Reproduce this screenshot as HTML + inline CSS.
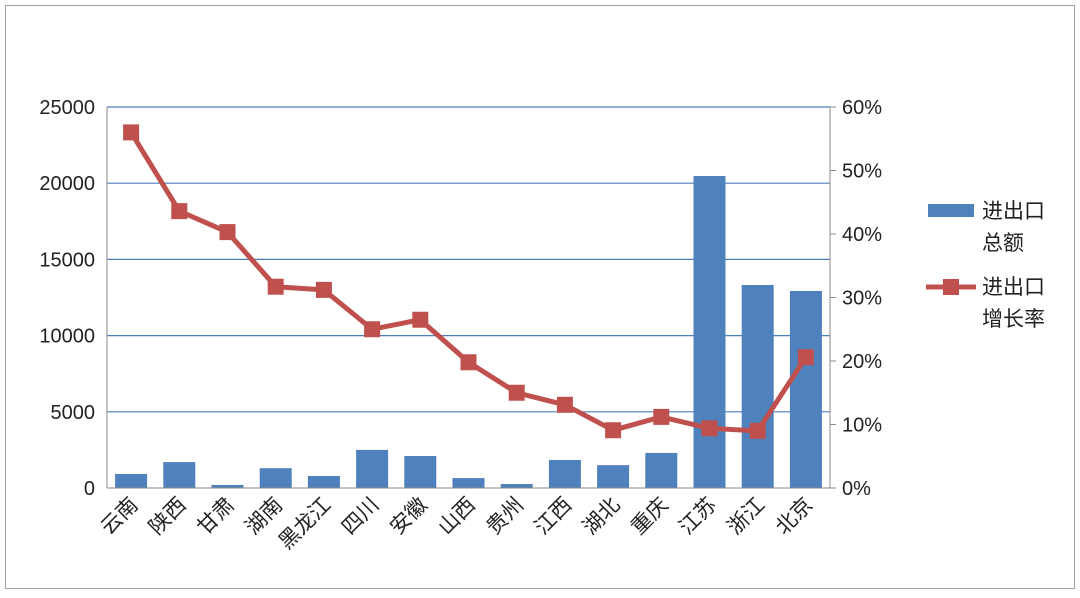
<!DOCTYPE html>
<html><head><meta charset="utf-8"><style>
body{margin:0;background:#fff;}
svg text{font-family:"Liberation Sans","Noto Sans CJK SC",sans-serif;fill:#222;}
</style></head><body>
<svg width="1080" height="593" xmlns="http://www.w3.org/2000/svg">
<rect x="5.5" y="5.5" width="1069" height="583" fill="#fff" stroke="#a0a0a0"/>
<g id="grid"></g><g id="bars"></g><g id="axes"></g><g id="line"></g><g id="labels"></g>
<g>
<rect x="928" y="204" width="46" height="13" fill="#4f81bd"/>
<text x="982" y="218" font-size="21">进出口</text>
<text x="982" y="250" font-size="21">总额</text>
<line x1="926" y1="287" x2="976" y2="287" stroke="#c0504d" stroke-width="5"/>
<rect x="943" y="279" width="16" height="16" fill="#c0504d"/>
<text x="982" y="294" font-size="21">进出口</text>
<text x="982" y="326" font-size="21">增长率</text>
</g>
</svg>
<script>
const categories=["云南","陕西","甘肃","湖南","黑龙江","四川","安徽","山西","贵州","江西","湖北","重庆","江苏","浙江","北京"];
const totals=[920,1700,200,1300,790,2500,2100,650,260,1840,1500,2300,20470,13320,12930];
const growth=[56,43.6,40.3,31.7,31.2,25,26.5,19.8,15,13.1,9.1,11.2,9.4,9,20.6];
const leftTicks=[0,5000,10000,15000,20000,25000];
const rightTicks=[0,10,20,30,40,50,60];
const X0=107,X1=830,Y0=488,Y1=107;
const bw=(X1-X0)/categories.length;
const xc=i=>X0+bw*(i+0.5);
const yL=v=>Y0-(v/25000)*(Y0-Y1);
const yR=v=>Y0-(v/60)*(Y0-Y1);
const NS="http://www.w3.org/2000/svg";
function mk(t,a,p){const e=document.createElementNS(NS,t);for(const k in a)e.setAttribute(k,a[k]);document.getElementById(p).appendChild(e);return e;}
leftTicks.forEach(v=>{
 if(v>0){const g=mk('line',{x1:X0,x2:X1,y1:yL(v),y2:yL(v),stroke:'#4a7ebb','stroke-width':1.2},'grid');
 
 }
 const t=mk('text',{x:X0-12,y:yL(v)+7,'font-size':20,'text-anchor':'end'},'labels');t.textContent=v;
 
 
});
rightTicks.forEach(v=>{
 const t=mk('text',{x:X1+12,y:yR(v)+7,'font-size':20},'labels');t.textContent=v+'%';
 
 
 const k=mk('line',{x1:X1,x2:X1+6,y1:yR(v),y2:yR(v),stroke:'#888'},'axes');
 
 
});
let a=mk('line',{x1:X0,x2:X0,y1:Y1,y2:Y0,stroke:'#888'},'axes');


a=mk('line',{x1:X1,x2:X1,y1:Y1,y2:Y0,stroke:'#888'},'axes');


a=mk('line',{x1:X0,x2:X1,y1:Y0,y2:Y0,stroke:'#888'},'axes');


categories.forEach((c,i)=>{
 const b=mk('rect',{x:xc(i)-16,y:yL(totals[i]),width:32,height:Y0-yL(totals[i]),fill:'#4f81bd'},'bars');
 
 
 const t=mk('text',{x:xc(i)+8,y:Y0+18,'font-size':21,'text-anchor':'end',transform:`rotate(-45 ${xc(i)+8} ${Y0+18})`},'labels');t.textContent=c;
 
 
});
const pl=mk('polyline',{points:growth.map((g,i)=>xc(i)+','+yR(g)).join(' '),fill:'none',stroke:'#c0504d','stroke-width':5,'stroke-linejoin':'round'},'line');


growth.forEach((g,i)=>{
 const m=mk('rect',{x:xc(i)-8,y:yR(g)-8,width:16,height:16,fill:'#c0504d'},'line');
 
 
});
</script>
</body></html>
